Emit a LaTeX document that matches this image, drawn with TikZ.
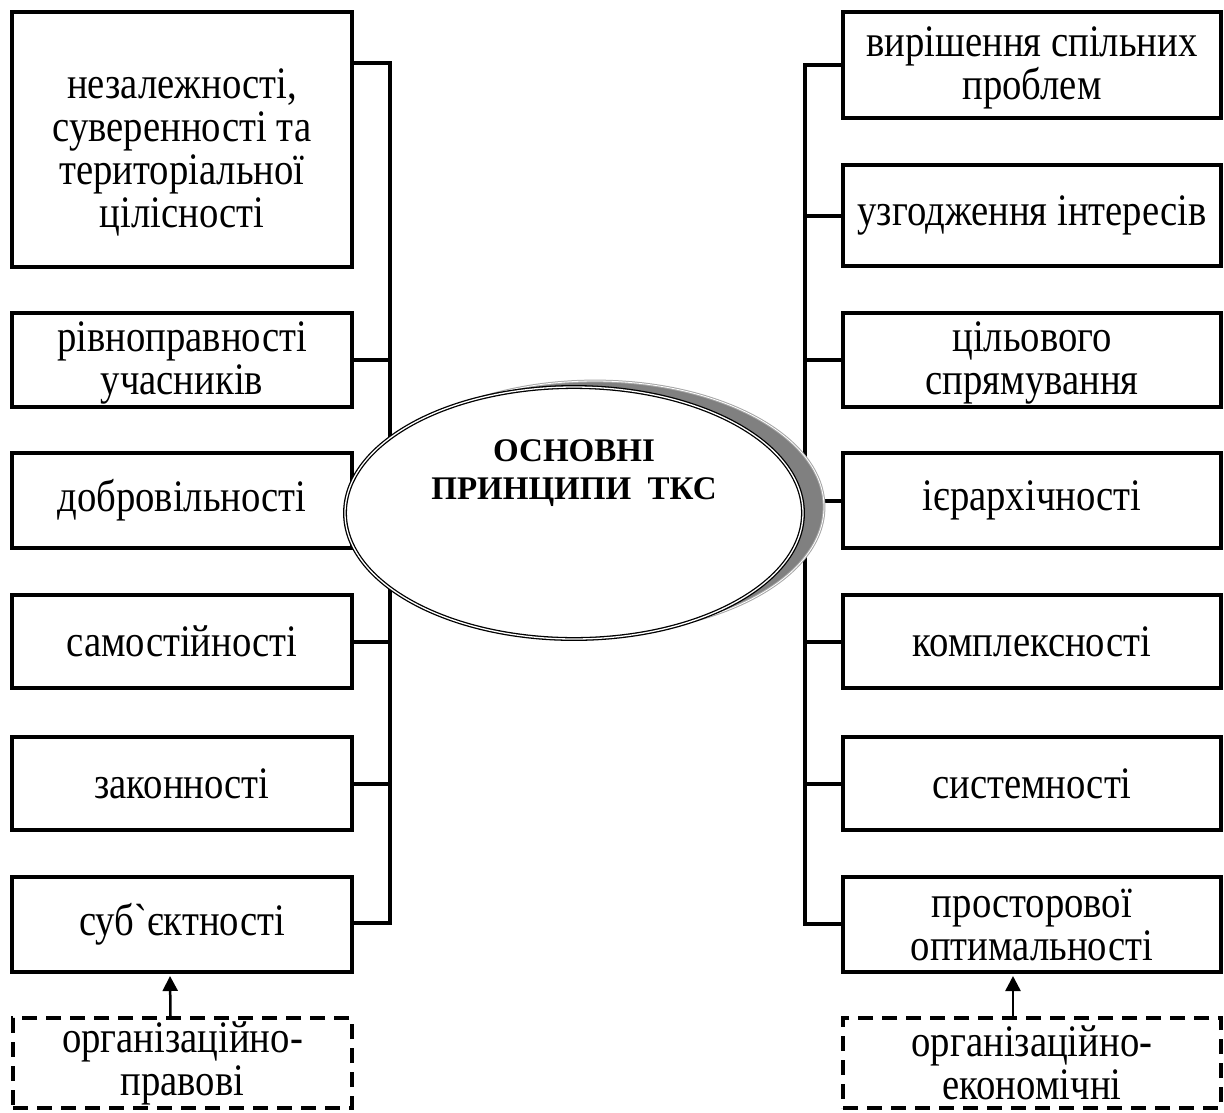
\documentclass[tikz,border=0pt]{standalone}
\usepackage{fontspec}
\setmainfont{Liberation Serif}
\newfontfamily\boxfont{Liberation Serif}[FakeStretch=0.86]
\newcommand{\toppad}[1]{\rule{0pt}{#1}}
\usetikzlibrary{arrows.meta,shapes.geometric}

\tikzset{
  box/.style={draw, line width=4pt, align=center, inner sep=0pt,
    font=\boxfont\fontsize{45}{43}\selectfont},
  lbox/.style={box, minimum width=340pt},
  rbox/.style={box, minimum width=378pt},
  basebox/.style={box, dash pattern=on 15pt off 9pt, minimum height=90pt},
  bus/.style={line width=4pt},
  up/.style={line width=2.5pt, shorten >=2pt, -{Triangle[length=15pt,width=15pt]}}
}

\begin{document}
\begin{tikzpicture}[x=1pt,y=-1pt]
\useasboundingbox (0,0) rectangle (1224,1112);

% left column
\node[lbox, minimum height=255pt] (nez) at (182,139.5) {\toppad{55pt}незалежності,\\суверенності та\\територіальної\\цілісності};
\node[lbox, minimum height=94pt] (riv) at (182,360) {\toppad{36pt}рівноправності\\учасників};
\node[lbox, minimum height=95pt] (dob) at (182,500.5) {добровільності};
\node[lbox, minimum height=93pt] (sam) at (182,641.5) {самостійності};
\node[lbox, minimum height=93pt] (zak) at (182,783.5) {законності};
\node[lbox, minimum height=95pt] (sub) at (182,924.5) {субˋєктності};
\node[basebox, minimum width=339pt] (orgpr) at (182.5,1063) {організаційно-\\правові};

% right column
\node[rbox, minimum height=106pt] (vyr) at (1032,65) {\toppad{36pt}вирішення спільних\\проблем};
\node[rbox, minimum height=101pt] (uzg) at (1032,215.5) {узгодження інтересів};
\node[rbox, minimum height=94pt] (cil) at (1032,360) {\toppad{36pt}цільового\\спрямування};
\node[rbox, minimum height=95pt] (ier) at (1032,500.5) {ієрархічності};
\node[rbox, minimum height=93pt] (kom) at (1032,641.5) {комплексності};
\node[rbox, minimum height=93pt] (sys) at (1032,783.5) {системності};
\node[rbox, minimum height=95pt] (pro) at (1032,924.5) {просторової\\оптимальності};
\node[basebox, minimum width=378pt] (orgek) at (1032,1063) {організаційно-\\економічні};

% buses
\coordinate (ltop) at (390,63);
\coordinate (lbot) at (390,923);
\draw[bus] (nez.east |- ltop) -- (ltop) -- (lbot) -- (sub.east |- lbot);
\foreach \n in {riv,dob,sam,zak}
  \draw[bus] (\n.east) -- (\n.east -| ltop);
\coordinate (rtop) at (805,65);
\coordinate (rbot) at (805,924);
\draw[bus] (vyr.west |- rtop) -- (rtop) -- (rbot) -- (pro.west |- rbot);
\foreach \n in {uzg,cil,ier,kom,sys}
  \draw[bus] (\n.west) -- (\n.west -| rtop);

\draw[up] ([xshift=-12pt]orgpr.north) -- ([xshift=-12pt]sub.south);
\draw[up] ([xshift=-19pt]orgek.north) -- ([xshift=-19pt]pro.south);

% centre
\node[ellipse, minimum width=458pt, minimum height=252pt, fill=gray,
  draw=gray!70, line width=1pt, double=white, double distance=0.8pt]
  (coresh) at (595,507) {};
\node[ellipse, minimum width=458pt, minimum height=252pt, fill=white,
  draw, line width=1.3pt, double=white, double distance=1.3pt]
  (core) at (574,513) {};
\node[align=center, font=\fontsize{33}{38}\selectfont\bfseries]
  (title) at ([yshift=40pt]core.center) {ОСНОВНІ\\ПРИНЦИПИ\ \ ТКС};
\end{tikzpicture}
\end{document}
